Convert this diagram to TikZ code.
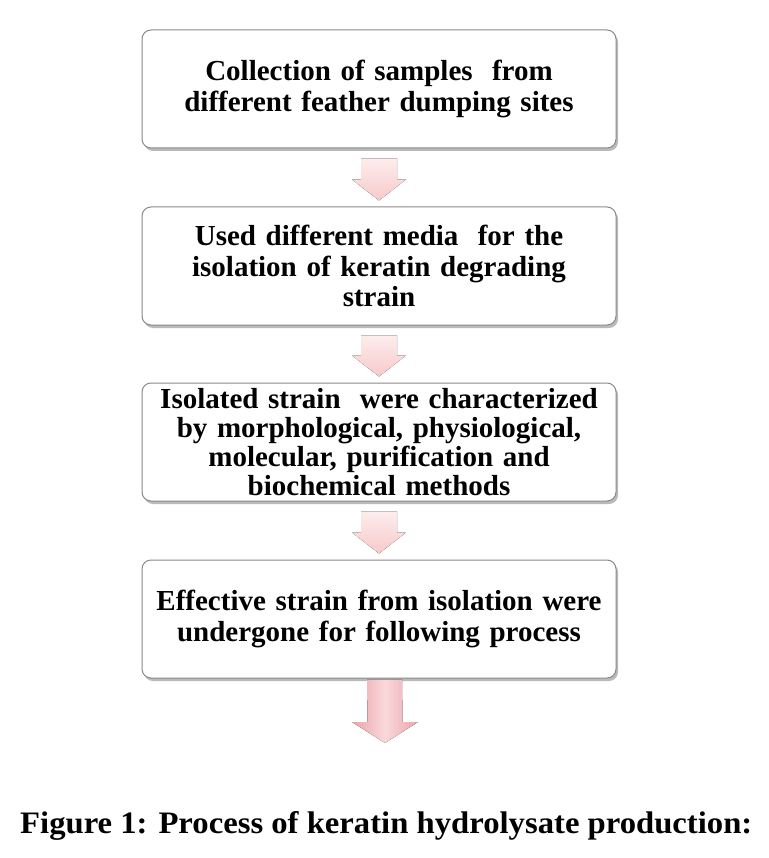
\documentclass[tikz,border=0pt]{standalone}
\usepackage{fontspec}
\setmainfont{Liberation Serif}
\usepackage{graphicx}
\usetikzlibrary{shadows,calc}
\definecolor{boxline}{HTML}{8A8A8A}
\definecolor{pinklight}{HTML}{FDEDED}
\definecolor{pinkdark}{HTML}{F7C9CB}
\definecolor{pinkA}{HTML}{F9D9DB}
\definecolor{pinkB}{HTML}{EBA3A9}
\definecolor{pinkC}{HTML}{F4C0C4}
\tikzset{
  x=1pt, y=1pt,
  stepbox/.style={draw=boxline, line width=1pt, fill=white, rounded corners=9pt,
    minimum width=474pt, minimum height=118pt, inner sep=0pt,
    text width=468pt, align=center,
    font=\fontsize{29}{30.5}\selectfont\bfseries,
    drop shadow={shadow xshift=2pt, shadow yshift=-3pt, fill=black!45, opacity=0.6}},
  palearrow/.style={top color=pinklight, bottom color=pinkdark, draw=none},
  lastarrow/.style={left color=pinkB, right color=pinkB, middle color=pinkA, draw=none},
}
\begin{document}
\begin{tikzpicture}
\useasboundingbox (0,0) rectangle (768,-858);
\fill[white] (0,0) rectangle (768,-858);

\node[stepbox] (b1) at (379,-89) {Collection of samples\ \ from\\different feather dumping sites};
\node[stepbox] (b2) at (379,-266) {Used different media\ \ for the\\isolation of keratin degrading\\strain};
\node[stepbox, font=\fontsize{29}{29}\selectfont\bfseries] (b3) at (379,-442) {Isolated strain\ \ were characterized\\by morphological, physiological,\\molecular, purification and\\biochemical methods};
\node[stepbox] (b4) at (379,-619) {Effective strain from isolation were\\undergone for following process};

% pale block arrows between the boxes
\foreach \a/\b in {b1/b2, b2/b3, b3/b4}{
  \fill[palearrow]
    ($(\a.south)+(-18,-10)$) -- ($(\a.south)+(18,-10)$)
    -- ($(\b.north)+(18,27)$) -- ($(\b.north)+(27,27)$)
    -- ($(\b.north)+(0,6)$)
    -- ($(\b.north)+(-27,27)$) -- ($(\b.north)+(-18,27)$) -- cycle;
}
\coordinate (end) at (385,-743);
\fill[lastarrow]
  ($(b4.south)+(-12,-1)$) -- ($(b4.south)+(23,-1)$)
  -- ($(end)+(17.5,21)$) -- ($(end)+(33,21)$) -- (end)
  -- ($(end)+(-33,21)$) -- ($(end)+(-17.5,21)$) -- cycle;

\node[anchor=base west, inner sep=0pt] (cap) at (20,-833)
  {\resizebox{732pt}{22pt}{\bfseries Figure 1: Process of keratin hydrolysate production:}};
\end{tikzpicture}
\end{document}
